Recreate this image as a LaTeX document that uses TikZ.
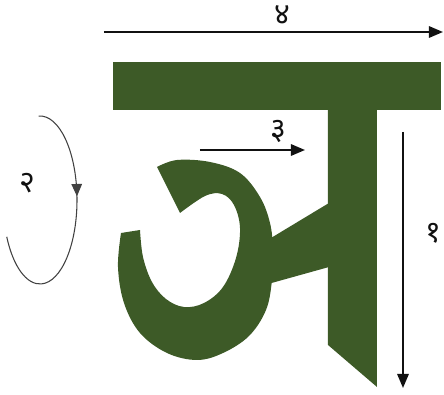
\documentclass[tikz,border=0pt]{standalone}
\usepackage{fontspec}
\newfontfamily\devfont[Script=Devanagari]{Noto Sans}
\usetikzlibrary{arrows.meta,decorations.markings}
\definecolor{LeafGreen}{HTML}{3D5A27}
\definecolor{Ink}{HTML}{111111}

\begin{document}
\begin{tikzpicture}[
      x=0.02cm, y=-0.02cm,
      every node/.style={font=\devfont\LARGE, text=Ink},
      letter/.style={fill=LeafGreen},
      stroke/.style={-{Triangle[length=8pt,width=6.5pt]}, line width=1.1pt, draw=Ink},
      loopline/.style={line width=0.6pt, draw=Ink!80,
        postaction={decorate},
        decoration={markings, mark=at position 0.37 with {\arrow{Triangle[length=7pt,width=6pt]}}}}
    ]
    \useasboundingbox (0,0) rectangle (444,395);

    % letter body
    \fill[letter] (113,62) rectangle (441,110);
    \fill[letter] (328,108) -- (377,108) -- (377,387) -- (328,345) -- cycle;
    \fill[letter] (266,241) -- (329,203) -- (329,267) -- (268,284) -- cycle;
    \fill[letter] (157,167)
      -- plot[smooth, tension=0.6] coordinates {(157,167) (177,160) (210,162) (240,173) (260,197) (270,223) (273,250) (272,280) (266,310) (249,336) (223,353) (197,360) (167,353) (140,333) (124,303) (118,267) (121,233)}
      -- plot[smooth, tension=0.6] coordinates {(140,230) (143,257) (152,282) (166,299) (184,307) (204,303) (223,287) (236,258) (240,228) (234,205) (222,194) (205,196) (180,213)}
      -- cycle;

    % stroke order
    \coordinate (s1) at (403,132);
    \coordinate (e1) at (403,388);
    \coordinate (s3) at (200,150);
    \coordinate (e3) at (305,150);
    \coordinate (s4) at (104,32);
    \coordinate (e4) at (443,32);
    \coordinate (c2) at (40,200);

    \draw[stroke] (s1) -- (e1);
    \draw[stroke] (s3) -- (e3);
    \draw[stroke] (s4) -- (e4);
    \draw[loopline] ([shift={(-92:37 and 84)}]c2) arc[start angle=-92, end angle=154, x radius=37, y radius=84];

    \node (n1) at (433,233) {१};
    \node (n2) at (27,183) {२};
    \node (n3) at (278,131) {३};
    \node (n4) at (282,15) {४};
  \end{tikzpicture}
\end{document}
